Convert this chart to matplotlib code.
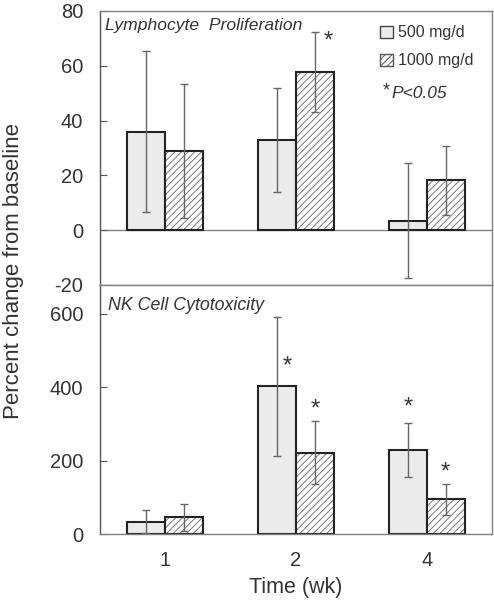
import matplotlib.pyplot as plt
from matplotlib.patches import Rectangle
import numpy as np

plt.rcParams['font.family'] = ['Liberation Sans', 'DejaVu Sans']
plt.rcParams['hatch.linewidth'] = 0.7
plt.rcParams['axes.unicode_minus'] = False

# Data
weeks = ['1', '2', '4']
lymph_500 = [36, 33, 3.5]
lymph_500_err = [29.5, 19, 21]
lymph_1000 = [29, 57.7, 18.2]
lymph_1000_err = [24.5, 14.7, 12.7]

nk_500 = [34, 402, 229]
nk_500_err = [30, 190, 73]
nk_1000 = [45, 221, 94]
nk_1000_err = [37, 86, 43]

# significance stars: (group index, x shift, y value)
lymph_stars = [(1, 0.245, 69)]
nk_stars = [(1, -0.065, 457), (1, 0.145, 340), (2, -0.145, 344), (2, 0.145, 168)]

txt = '#333333'
frame = '#808080'
w = 0.29
x = np.arange(len(weeks))

fig = plt.figure(figsize=(4.94, 6.0), dpi=100)
ax1 = fig.add_axes([100/494, 0.525, 392/494, 0.4567])
ax2 = fig.add_axes([100/494, 0.11, 392/494, 0.415])


def draw(ax, v500, e500, v1000, e1000):
    ax.bar(x - w/2, v500, w, color='#ebebeb', edgecolor='#222222', linewidth=1.5, zorder=2)
    # hatch in grey, outline in dark
    ax.bar(x + w/2, v1000, w, color='white', edgecolor='#7a7a7a', hatch='/////', linewidth=0, zorder=2)
    ax.bar(x + w/2, v1000, w, color='none', edgecolor='#222222', linewidth=1.5, zorder=2)
    ax.errorbar(x - w/2, v500, yerr=e500, fmt='none', ecolor='#666666', elinewidth=1, capsize=3, zorder=3)
    ax.errorbar(x + w/2, v1000, yerr=e1000, fmt='none', ecolor='#666666', elinewidth=1, capsize=3, zorder=3)
    ax.set_xlim(-0.5, 2.5)
    for s in ax.spines.values():
        s.set_color(frame)
        s.set_linewidth(1)
    ax.spines['left'].set_color('#555555')
    ax.tick_params(axis='y', direction='in', length=5, pad=12, labelsize=14.5, colors=txt)
    ax.tick_params(axis='y', color='#555555')


def stars(ax, lst):
    for g, dx, yv in lst:
        ax.text(x[g] + dx, yv, '*', ha='center', va='center', fontsize=17, color=txt)


draw(ax1, lymph_500, lymph_500_err, lymph_1000, lymph_1000_err)
ax1.axhline(0, color=frame, linewidth=1, zorder=1)
ax1.set_ylim(-20, 80)
ax1.set_yticks([-20, 0, 20, 40, 60, 80])
ax1.set_xticks([])
stars(ax1, lymph_stars)
ax1.text(0.013, 0.93, 'Lymphocyte  Proliferation', transform=ax1.transAxes,
         style='italic', fontsize=12.6, color=txt)

draw(ax2, nk_500, nk_500_err, nk_1000, nk_1000_err)
ax2.set_ylim(0, 678)
ax2.set_yticks([0, 200, 400, 600])
ax2.set_xticks(x)
ax2.set_xticklabels(weeks)
ax2.tick_params(axis='x', length=0, pad=12, labelsize=14.5, colors=txt)
stars(ax2, nk_stars)
ax2.text(0.02, 0.9, 'NK Cell Cytotoxicity', transform=ax2.transAxes,
         style='italic', fontsize=12.8, color=txt)
ax2.set_xlabel('Time (wk)', fontsize=15.5, color=txt, labelpad=5)

# legend drawn as patches
fig.patches.append(Rectangle((380/494, 1 - 38/600), 13/494, 12/600, transform=fig.transFigure,
                             facecolor='#ebebeb', edgecolor='#444444', linewidth=1))
fig.patches.append(Rectangle((380/494, 1 - 66/600), 13/494, 12/600, transform=fig.transFigure,
                             facecolor='white', edgecolor='#555555', hatch='/////', linewidth=1))
fig.text(398/494, 1 - 32/600, '500 mg/d', fontsize=11.5, color=txt, va='center')
fig.text(398/494, 1 - 60/600, '1000 mg/d', fontsize=11.5, color=txt, va='center')
fig.text(383/494, 1 - 91/600, '*', fontsize=13, color=txt, va='center')
fig.text(391/494, 1 - 93/600, 'P<0.05', fontsize=12.5, color=txt, va='center', style='italic')

fig.text(14/494, 0.548, 'Percent change from baseline', rotation=90, fontsize=16,
         color=txt, ha='center', va='center')

fig.savefig('out.png', dpi=100)
